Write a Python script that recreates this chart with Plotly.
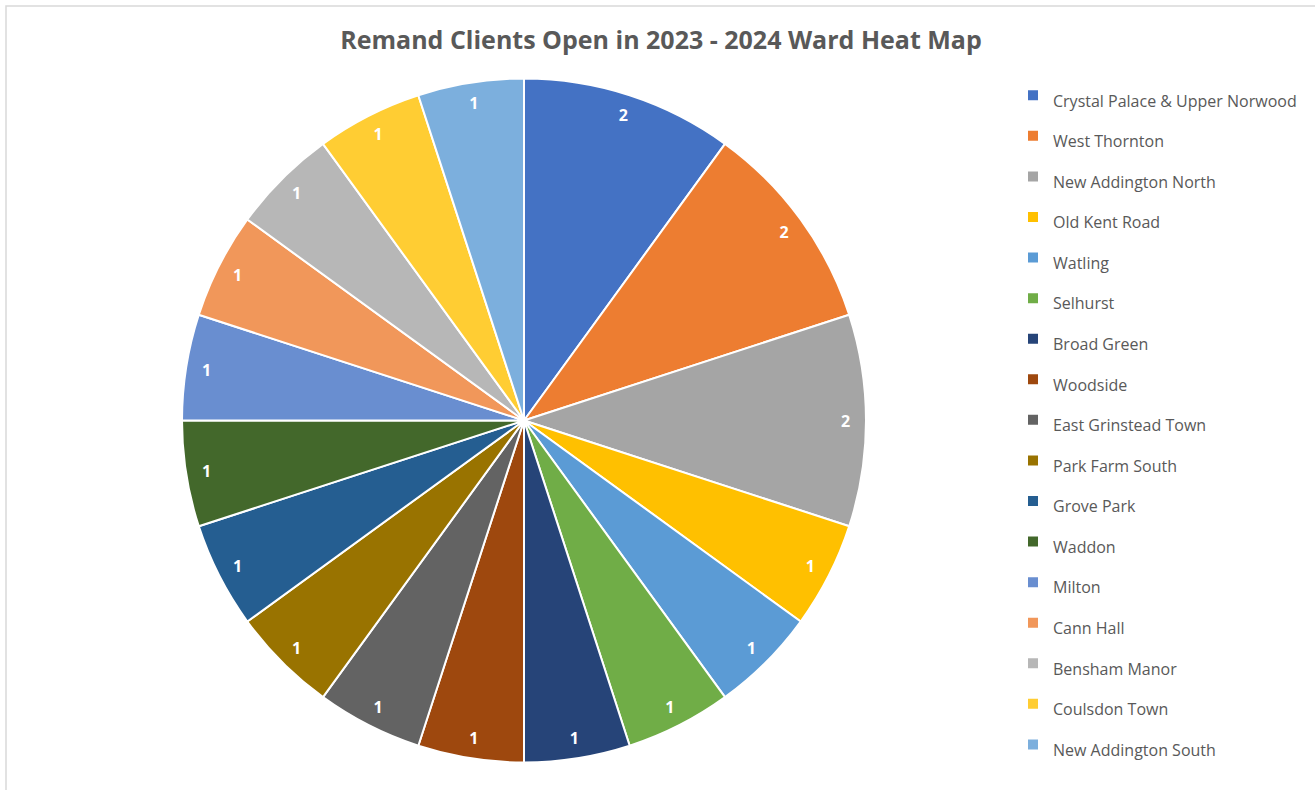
import plotly.graph_objects as go

wards = [
    "Crystal Palace & Upper Norwood", "West Thornton", "New Addington North",
    "Old Kent Road", "Watling", "Selhurst", "Broad Green", "Woodside",
    "East Grinstead Town", "Park Farm South", "Grove Park", "Waddon",
    "Milton", "Cann Hall", "Bensham Manor", "Coulsdon Town", "New Addington South",
]
clients = [2, 2, 2, 1, 1, 1, 1, 1, 1, 1, 1, 1, 1, 1, 1, 1, 1]
colors = [
    "#4472C4", "#ED7D31", "#A5A5A5", "#FFC000", "#5B9BD5", "#70AD47",
    "#264478", "#9E480E", "#636363", "#997300", "#255E91", "#43682B",
    "#698ED0", "#F1975A", "#B7B7B7", "#FFCD33", "#7CAFDD",
]

W, H = 1315, 790
font_family = "Open Sans, Liberation Sans, sans-serif"

legend_labels = [f"<span style='font-size:16px'>{w}</span>" for w in wards]
pie_domain = dict(x=[182 / W, 866 / W], y=[(H - 763) / H, (H - 78) / H])

# main pie: slices + legend
fig = go.Figure(go.Pie(
    labels=legend_labels,
    values=clients,
    sort=False,
    direction="clockwise",
    rotation=0,
    marker=dict(colors=colors, line=dict(color="white", width=2)),
    textinfo="none",
    hoverinfo="skip",
    domain=pie_domain,
))

# label ring: same data, transparent, carries the value labels near the rim
fig.add_trace(go.Pie(
    labels=legend_labels,
    values=clients,
    sort=False,
    direction="clockwise",
    rotation=0,
    hole=0.88,
    marker=dict(colors=["rgba(0,0,0,0)"] * len(clients), line=dict(width=0)),
    textinfo="value",
    textposition="inside",
    insidetextorientation="horizontal",
    textfont=dict(color="white", size=16, family=font_family, weight="bold"),
    hoverinfo="skip",
    showlegend=False,
    domain=pie_domain,
))

fig.update_layout(
    width=W, height=H,
    margin=dict(l=0, r=0, t=0, b=0),
    paper_bgcolor="white",
    font=dict(family=font_family, color="#595959"),
    title=dict(
        text="<b>Remand Clients Open in 2023 - 2024 Ward Heat Map</b>",
        x=661 / W, xanchor="center", y=1 - 40 / H, yanchor="middle",
        font=dict(size=25, color="#595959", family=font_family),
    ),
    legend=dict(
        x=1013 / W, xanchor="left", y=1 - 70 / H, yanchor="top",
        font=dict(size=28.9, color="#595959", family=font_family),
        bgcolor="rgba(0,0,0,0)",
        traceorder="normal",
    ),
    shapes=[dict(
        type="rect", xref="paper", yref="paper",
        x0=6 / W, x1=1.02, y0=-0.02, y1=1 - 6 / H,
        line=dict(color="#D9D9D9", width=1.5), fillcolor="rgba(0,0,0,0)",
        layer="below",
    )],
)

fig.write_html(
    "out.html",
    config={"displayModeBar": False},
    post_script="document.body.style.margin='0';document.body.style.overflow='hidden';",
)
